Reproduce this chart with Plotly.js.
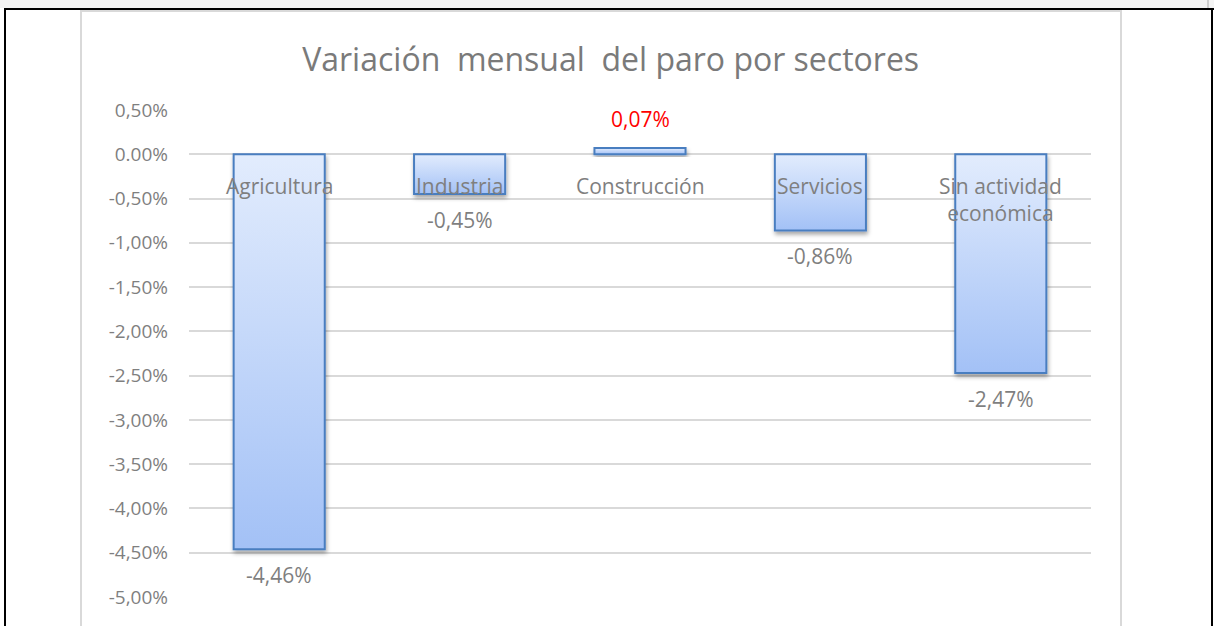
<!DOCTYPE html>
<html>
<head>
<meta charset="utf-8">
<script src="https://cdn.plot.ly/plotly-3.0.1.min.js"></script>
<style>
  html, body { margin: 0; padding: 0; background: #fff; }
  #wrap { position: relative; width: 1214px; height: 626px; overflow: hidden; }
  #chart { position: absolute; left: 0; top: 0; width: 1214px; height: 626px; }
  .deco { position: absolute; pointer-events: none; }
</style>
</head>
<body>
<div id="wrap">
  <div id="chart"></div>
  <div class="deco" style="left:0;top:0;width:1214px;height:8px;background:#f4f4f4;"></div>
  <div class="deco" style="left:1207px;top:0;width:2px;height:8px;background:#cfcfcf;"></div>
  <div class="deco" style="left:4px;top:8px;width:1210px;height:2px;background:#000;"></div>
  <div class="deco" style="left:4px;top:8px;width:2px;height:618px;background:#000;"></div>
  <div class="deco" style="left:1211px;top:8px;width:2px;height:618px;background:#000;"></div>
  <div class="deco" style="left:80px;top:10px;width:1038px;height:614px;border:2px solid #d9d9d9;"></div>
</div>
<script>
// ---- data ----
const categories = ["Agricultura", "Industria", "Construcción", "Servicios", "Sin actividad económica"];
const categoryLabels = ["Agricultura", "Industria", "Construcción", "Servicios", "Sin actividad<br>económica"];
const values = [-4.46, -0.45, 0.07, -0.86, -2.47];
const valueLabels = ["-4,46%", "-0,45%", "0,07%", "-0,86%", "-2,47%"];
const labelColors = ["#7f7f7f", "#7f7f7f", "#ff0000", "#7f7f7f", "#7f7f7f"];
const tickValues = [0.5, 0, -0.5, -1, -1.5, -2, -2.5, -3, -3.5, -4, -4.5, -5];
const tickLabels = ["0,50%", "0.00%", "-0,50%", "-1,00%", "-1,50%", "-2,00%", "-2,50%", "-3,00%", "-3,50%", "-4,00%", "-4,50%", "-5,00%"];
const chartTitle = "Variación\u00a0 mensual\u00a0 del paro por sectores";

const FONT = "'Open Sans', Lato, sans-serif";
const GRAY = "#7f7f7f";

const annotations = [];
categories.forEach((c, i) => {
  annotations.push({
    x: c, y: 0, xref: "x", yref: "y",
    text: categoryLabels[i], showarrow: false,
    yanchor: "top", yshift: -16,
    font: { family: FONT, size: 21, color: GRAY }
  });
  annotations.push({
    x: c, y: values[i], xref: "x", yref: "y",
    text: valueLabels[i], showarrow: false,
    yanchor: "middle", yshift: values[i] < 0 ? -26 : 29,
    font: { family: FONT, size: 21, color: labelColors[i] }
  });
});

const trace = {
  type: "bar",
  x: categories,
  y: values,
  marker: { color: "#c3d6f8", line: { color: "#4a7ec0", width: 2 } },
  hoverinfo: "skip"
};

const layout = {
  width: 1214, height: 626,
  margin: { l: 189, r: 123, t: 110, b: 29 },
  paper_bgcolor: "#ffffff",
  plot_bgcolor: "#ffffff",
  bargap: 0.495,
  showlegend: false,
  title: {
    text: chartTitle,
    x: 0.503, xref: "container", xanchor: "center",
    y: 1 - 60 / 626, yref: "container", yanchor: "middle",
    font: { family: FONT, size: 32, color: "#7a7a7a" }
  },
  xaxis: {
    type: "category",
    showticklabels: false, showgrid: false, zeroline: false, showline: false, ticks: ""
  },
  yaxis: {
    range: [-5, 0.5],
    tickvals: tickValues, ticktext: tickLabels,
    showgrid: true, gridcolor: "#d9d9d9", gridwidth: 2,
    zeroline: true, zerolinecolor: "#d9d9d9", zerolinewidth: 2,
    showline: false, ticks: "",
    ticklabelstandoff: 20,
    tickfont: { family: FONT, size: 19, color: GRAY }
  },
  annotations: annotations
};

Plotly.newPlot("chart", [trace], layout, { displayModeBar: false, staticPlot: true }).then(gd => {
  const NS = "http://www.w3.org/2000/svg";
  const svg = gd.querySelector("svg.main-svg");
  let defs = svg.querySelector("defs");
  if (!defs) { defs = document.createElementNS(NS, "defs"); svg.insertBefore(defs, svg.firstChild); }
  const grad = document.createElementNS(NS, "linearGradient");
  grad.setAttribute("id", "barGrad");
  grad.setAttribute("x1", "0"); grad.setAttribute("y1", "0");
  grad.setAttribute("x2", "0"); grad.setAttribute("y2", "1");
  [["0%", "#e2ecfd"], ["100%", "#a3c1f6"]].forEach(([o, c]) => {
    const s = document.createElementNS(NS, "stop");
    s.setAttribute("offset", o); s.setAttribute("stop-color", c);
    grad.appendChild(s);
  });
  defs.appendChild(grad);
  const filt = document.createElementNS(NS, "filter");
  filt.setAttribute("id", "barShadow");
  filt.setAttribute("x", "-10%"); filt.setAttribute("y", "-10%");
  filt.setAttribute("width", "130%"); filt.setAttribute("height", "140%");
  const ds = document.createElementNS(NS, "feDropShadow");
  ds.setAttribute("dx", "1"); ds.setAttribute("dy", "3");
  ds.setAttribute("stdDeviation", "2");
  ds.setAttribute("flood-color", "#000"); ds.setAttribute("flood-opacity", "0.35");
  filt.appendChild(ds);
  defs.appendChild(filt);
  gd.querySelectorAll("g.barlayer g.point path").forEach(p => {
    p.style.fill = "url(#barGrad)";
    p.setAttribute("filter", "url(#barShadow)");
  });
});
</script>
</body>
</html>
